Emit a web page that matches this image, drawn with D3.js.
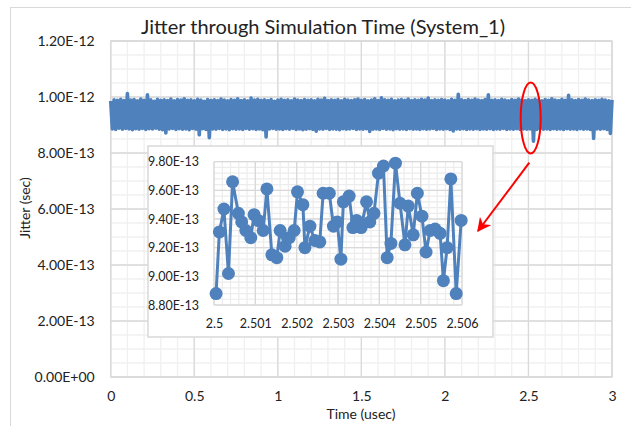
<!DOCTYPE html>
<html><head><meta charset="utf-8">
<script src="https://cdn.jsdelivr.net/npm/d3@7"></script>
<style>body{margin:0;background:#fff}svg{display:block}text{font-family:Lato,"Open Sans",sans-serif;fill:#222}</style>
</head><body>
<script>
// ---- DATA ----
const title = "Jitter through Simulation Time (System_1)";
const xTitle = "Time (usec)";
const yTitle = "Jitter (sec)";
const xTicks = [0, 0.5, 1, 1.5, 2, 2.5, 3];
const yTicks = [0, 2e-13, 4e-13, 6e-13, 8e-13, 1e-12, 1.2e-12];
const insetXTicks = [2.5, 2.501, 2.502, 2.503, 2.504, 2.505, 2.506];
const insetYTicks = [8.8e-13, 9.0e-13, 9.2e-13, 9.4e-13, 9.6e-13, 9.8e-13];
// main trace, jitter in units of 1e-13 s, sampled every 0.01 usec from 0 to 3
const mainStep = 0.01;
const mainJitter = [
9.86,8.86,9.90,8.84,9.88,8.89,9.92,8.85,9.87,8.88,10.12,8.86,9.89,8.83,9.91,8.87,9.86,8.85,9.93,8.88,
9.88,8.84,10.08,8.87,9.90,8.86,9.85,8.89,9.92,8.85,9.88,8.83,9.90,8.72,9.87,8.86,9.93,8.88,9.86,8.84,
9.91,8.87,9.89,8.85,9.94,8.86,9.88,8.83,9.90,8.88,9.86,8.85,9.92,8.65,9.89,8.87,9.85,8.84,9.91,8.55,
9.88,8.86,9.90,8.85,9.87,8.88,9.93,8.84,9.89,8.86,9.86,8.83,9.91,8.87,9.88,8.85,9.94,8.86,9.87,8.84,
9.90,8.88,9.86,8.85,9.96,8.87,9.89,8.84,9.92,8.86,9.88,8.83,9.90,8.57,9.87,8.86,9.91,8.88,9.85,8.85,
9.89,8.86,9.92,8.84,9.88,8.87,9.90,8.85,9.86,8.88,9.93,8.84,9.89,8.86,9.87,8.83,9.91,8.85,9.88,8.87,
9.90,8.84,9.86,8.78,9.92,8.86,9.89,8.85,9.95,8.88,9.87,8.84,9.90,8.86,9.88,8.85,9.91,8.83,9.86,8.87,
9.92,8.85,9.89,8.86,9.87,8.88,9.90,8.84,9.93,8.86,9.88,8.85,9.91,8.87,9.86,8.77,9.89,8.85,9.94,8.86,
9.87,8.84,9.97,8.88,9.90,8.85,9.88,8.86,9.92,8.83,9.86,8.87,9.89,8.85,9.91,8.86,9.88,8.84,9.93,8.87,
9.87,8.85,9.90,8.86,9.88,8.84,9.92,8.87,9.89,8.85,9.96,8.86,9.87,8.88,9.90,8.84,9.88,8.86,9.91,8.85,
9.89,8.87,9.86,8.84,9.92,8.79,9.88,8.86,10.10,8.85,9.90,8.87,9.87,8.84,9.91,8.86,9.88,8.85,9.93,8.87,
9.89,8.84,9.87,8.86,9.91,8.85,10.08,8.87,9.88,8.84,9.90,8.86,9.87,8.85,9.92,8.88,9.89,8.84,9.86,8.86,
9.91,8.85,9.88,8.87,9.93,8.84,9.89,8.86,9.87,8.85,9.90,8.86,9.88,8.42,9.92,8.84,9.89,8.87,9.86,8.85,
9.91,8.86,9.88,8.84,9.94,8.87,9.89,8.85,9.87,8.86,9.92,8.84,9.88,8.87,10.06,8.85,9.90,8.86,9.87,8.84,
9.91,8.87,9.88,8.85,9.93,8.86,9.89,8.84,9.87,8.52,9.90,8.86,9.88,8.85,9.92,8.87,9.89,8.84,9.86,8.70,
9.90];
// zoomed inset (2.5 - 2.506 usec)
const insetTime = [
2.50005,2.50013,2.50024,2.50035,2.50045,2.50059,2.50067,2.50077,2.50089,2.50097,
2.50107,2.50119,2.50128,2.50140,2.50152,2.50160,2.50172,2.50182,2.50194,2.50202,
2.50215,2.50220,2.50232,2.50244,2.50256,2.50264,2.50279,2.50289,2.50298,2.50307,
2.50313,2.50327,2.50336,2.50345,2.50356,2.50369,2.50377,2.50387,2.50398,2.50410,
2.50419,2.50428,2.50439,2.50450,2.50462,2.50470,2.50482,2.50492,2.50503,2.50513,
2.50523,2.50535,2.50547,2.50555,2.50564,2.50573,2.50586,2.50598];
const insetJitter = [
8.88,9.31,9.47,9.02,9.66,9.44,9.38,9.32,9.27,9.43,
9.39,9.32,9.61,9.15,9.13,9.32,9.21,9.27,9.32,9.59,
9.50,9.20,9.35,9.25,9.24,9.58,9.58,9.35,9.38,9.12,
9.52,9.56,9.34,9.39,9.34,9.52,9.38,9.44,9.72,9.77,
9.13,9.23,9.79,9.51,9.22,9.49,9.29,9.58,9.42,9.17,
9.32,9.33,9.30,8.97,9.20,9.68,8.88,9.39];

// ---- DRAWING ----
const W = 631, H = 426;
const blue = "#4f81bd";
const svg = d3.select("body").append("svg").attr("width", W).attr("height", H);
const sci = v => { const s = d3.format(".2e")(v).toUpperCase(); const m = s.match(/^(.*E)([+-])(\d+)$/); return m[1] + m[2] + m[3].padStart(2, "0"); };

svg.append("rect").attr("x", 10.5).attr("y", 7.5).attr("width", 640).attr("height", 440)
  .attr("fill", "#fff").attr("stroke", "#d9d9d9");

const x = d3.scaleLinear().domain([0, 3]).range([110.7, 612]);
const y = d3.scaleLinear().domain([0, 1.2e-12]).range([377, 41]);

const grid = svg.append("g");
grid.selectAll(".vmin").data(x.ticks(30)).join("line")
  .attr("x1", d => x(d)).attr("x2", d => x(d)).attr("y1", y.range()[1]).attr("y2", y.range()[0])
  .attr("stroke", "#f0f0f0").attr("stroke-width", 1.3);
grid.selectAll(".hmin").data(y.ticks(24)).join("line")
  .attr("y1", d => y(d)).attr("y2", d => y(d)).attr("x1", x.range()[0]).attr("x2", x.range()[1])
  .attr("stroke", "#f0f0f0").attr("stroke-width", 1.3);
grid.selectAll(".vmaj").data(xTicks).join("line")
  .attr("x1", d => x(d)).attr("x2", d => x(d)).attr("y1", y.range()[1]).attr("y2", y.range()[0])
  .attr("stroke", "#dadada").attr("stroke-width", 1.3);
grid.selectAll(".hmaj").data(yTicks).join("line")
  .attr("y1", d => y(d)).attr("y2", d => y(d)).attr("x1", x.range()[0]).attr("x2", x.range()[1])
  .attr("stroke", "#dadada").attr("stroke-width", 1.3);
svg.append("rect").attr("x", x.range()[0]).attr("y", y.range()[1])
  .attr("width", x.range()[1] - x.range()[0]).attr("height", y.range()[0] - y.range()[1])
  .attr("fill", "none").attr("stroke", "#d9d9d9").attr("stroke-width", 1.3);

// axes labels
const xAx = svg.append("g").attr("transform", `translate(0,${y.range()[0] + 11})`)
  .call(d3.axisBottom(x).tickValues(xTicks).tickSize(0).tickFormat(d => String(d)));
xAx.select(".domain").remove();
xAx.selectAll("text").attr("font-size", 14).attr("font-family", "Lato").attr("fill", "#222");
const yAx = svg.append("g").attr("transform", `translate(${x.range()[0] - 13},0)`)
  .call(d3.axisLeft(y).tickValues(yTicks).tickSize(0).tickFormat(sci));
yAx.select(".domain").remove();
yAx.selectAll("text").attr("font-size", 14).attr("font-family", "Lato").attr("fill", "#222");

svg.append("text").attr("x", 323).attr("y", 34).attr("text-anchor", "middle")
  .attr("font-size", 20).text(title);
svg.append("text").attr("x", 361).attr("y", 419).attr("text-anchor", "middle")
  .attr("font-size", 14).text(xTitle);
svg.append("text").attr("transform", "translate(30,208) rotate(-90)").attr("text-anchor", "middle")
  .attr("font-size", 14).text(yTitle);

// main trace
const mainData = mainJitter.map((v, i) => ({ t: i * mainStep, v: v * 1e-13 }));
svg.append("path").datum(mainData)
  .attr("d", d3.line().x(d => x(d.t)).y(d => y(d.v)))
  .attr("fill", "none").attr("stroke", blue).attr("stroke-width", 3.6).attr("stroke-linejoin", "round");

// inset
const ins = svg.append("g");
ins.append("rect").attr("x", 148).attr("y", 146).attr("width", 345).attr("height", 191)
  .attr("fill", "#fff").attr("stroke", "#d9d9d9").attr("stroke-width", 1.5);
const ix = d3.scaleLinear().domain([2.5, 2.506]).range([214, 462]);
const iy = d3.scaleLinear().domain([8.8e-13, 9.8e-13]).range([305, 161.7]);
const ixMinor = d3.range(0, 31).map(k => ix.invert(ix.range()[0] + k * (ix.range()[1] - ix.range()[0]) / 30));
const iyMinor = d3.range(0, 26).map(k => iy.invert(iy.range()[0] - k * (iy.range()[0] - iy.range()[1]) / 25));
ins.selectAll(".ivmin").data(ixMinor).join("line")
  .attr("x1", d => ix(d)).attr("x2", d => ix(d)).attr("y1", iy.range()[1]).attr("y2", iy.range()[0])
  .attr("stroke", "#ececec").attr("stroke-width", 1.2);
ins.selectAll(".ihmin").data(iyMinor).join("line")
  .attr("y1", d => iy(d)).attr("y2", d => iy(d)).attr("x1", ix.range()[0]).attr("x2", ix.range()[1])
  .attr("stroke", "#ececec").attr("stroke-width", 1.2);
ins.selectAll(".ivmaj").data(insetXTicks).join("line")
  .attr("x1", d => ix(d)).attr("x2", d => ix(d)).attr("y1", iy.range()[1]).attr("y2", iy.range()[0])
  .attr("stroke", "#d9d9d9").attr("stroke-width", 1.3);
ins.selectAll(".ihmaj").data(insetYTicks).join("line")
  .attr("y1", d => iy(d)).attr("y2", d => iy(d)).attr("x1", ix.range()[0]).attr("x2", ix.range()[1])
  .attr("stroke", "#d9d9d9").attr("stroke-width", 1.3);

const ixAx = ins.append("g").attr("transform", `translate(0,${iy.range()[0] + 11})`)
  .call(d3.axisBottom(ix).tickValues(insetXTicks).tickSize(0).tickFormat(d => String(+d.toFixed(3))));
ixAx.select(".domain").remove();
ixAx.selectAll("text").attr("font-size", 12.5).attr("font-family", "Lato").attr("fill", "#222");
const iyAx = ins.append("g").attr("transform", `translate(${ix.range()[0] - 12},0)`)
  .call(d3.axisLeft(iy).tickValues(insetYTicks).tickSize(0).tickFormat(sci));
iyAx.select(".domain").remove();
iyAx.selectAll("text").attr("font-size", 12.5).attr("font-family", "Lato").attr("fill", "#222");

const insData = insetJitter.map((v, i) => ({ t: insetTime[i], v: v * 1e-13 }));
ins.append("path").datum(insData)
  .attr("d", d3.line().x(d => ix(d.t)).y(d => iy(d.v)))
  .attr("fill", "none").attr("stroke", blue).attr("stroke-width", 3).attr("stroke-linejoin", "round");
ins.selectAll("circle").data(insData).join("circle")
  .attr("cx", d => ix(d.t)).attr("cy", d => iy(d.v)).attr("r", 6.5).attr("fill", blue);

// red annotation (on top)
svg.append("ellipse").attr("cx", 530.7).attr("cy", 118).attr("rx", 10).attr("ry", 35.5)
  .attr("fill", "none").attr("stroke", "#ff0000").attr("stroke-width", 2);
const defs = svg.append("defs");
defs.append("marker").attr("id", "arr").attr("viewBox", "0 0 10 10").attr("refX", 9).attr("refY", 5)
  .attr("markerWidth", 7).attr("markerHeight", 7).attr("markerUnits", "strokeWidth").attr("orient", "auto")
  .append("path").attr("d", "M0,0 L10,5 L0,10 L3,5 Z").attr("fill", "#ff0000");
svg.append("line").attr("x1", 529.3).attr("y1", 162.7).attr("x2", 478).attr("y2", 231)
  .attr("stroke", "#ff0000").attr("stroke-width", 2).attr("marker-end", "url(#arr)");
</script>
</body></html>
